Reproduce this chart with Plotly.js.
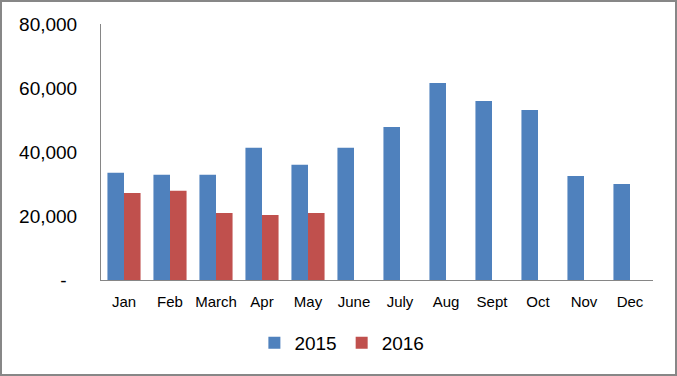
<!DOCTYPE html>
<html>
<head>
<meta charset="utf-8">
<script src="https://cdn.plot.ly/plotly-3.0.1.min.js"></script>
<style>
html,body{margin:0;padding:0;background:#fff;}
#wrap{position:relative;width:677px;height:376px;}
#chart{width:677px;height:376px;}
#frame{position:absolute;left:0;top:0;width:673px;height:372px;border:2px solid #878787;pointer-events:none;}
</style>
</head>
<body>
<div id="wrap"><div id="chart"></div><div id="frame"></div></div>
<script>
var months = ["Jan","Feb","March","Apr","May","June","July","Aug","Sept","Oct","Nov","Dec"];
var values2015 = [33500, 32900, 32900, 41300, 36000, 41300, 47800, 61600, 55900, 53100, 32500, 30000];
var months2016 = ["Jan","Feb","March","Apr","May"];
var values2016 = [27200, 27900, 20900, 20300, 20900];
var yTickVals = [0, 20000, 40000, 60000, 80000];
var yTickText = ["-\u00a0\u00a0", "20,000", "40,000", "60,000", "80,000"];

var font = "Liberation Sans, Arial, sans-serif";
var data = [
  {type:"bar", name:"2015", x:months, y:values2015, marker:{color:"#4F81BD"}},
  {type:"bar", name:"2016", x:months2016, y:values2016, marker:{color:"#C0504D"}}
];
var layout = {
  width:677, height:376,
  margin:{l:101, r:24, t:24, b:96, pad:0},
  paper_bgcolor:"#fff", plot_bgcolor:"#fff",
  barmode:"group", bargap:0.28, bargroupgap:0,
  font:{family:font, color:"#000"},
  xaxis:{type:"category", categoryorder:"array", categoryarray:months,
    showline:true, linecolor:"#868686", linewidth:1, showgrid:false, zeroline:false,
    ticks:"", tickfont:{size:15, family:font}, ticklabelstandoff:8},
  yaxis:{range:[0,80000], tickvals:yTickVals, ticktext:yTickText,
    showline:true, linecolor:"#868686", linewidth:1, showgrid:false, zeroline:false,
    ticks:"", tickfont:{size:19, family:font}, ticklabelstandoff:19},
  showlegend:true,
  legend:{orientation:"h", xref:"container", yref:"container", x:0.505, xanchor:"center",
    y:0.088, yanchor:"middle", font:{size:19, family:font}, itemwidth:30, traceorder:"normal"}
};
Plotly.newPlot("chart", data, layout, {displayModeBar:false, staticPlot:true});
</script>
</body>
</html>
